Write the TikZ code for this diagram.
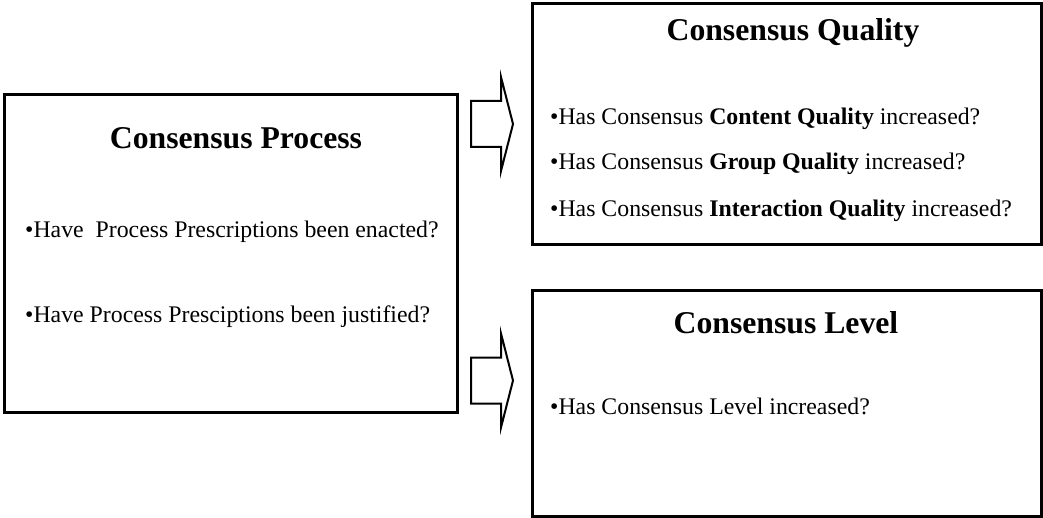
\documentclass[tikz,border=0pt]{standalone}
\usepackage{fontspec}
\setmainfont{Liberation Serif}
\begin{document}
\begin{tikzpicture}[x=1pt,y=-1pt,
  panel/.style={draw, line width=2.6pt, inner sep=0pt, anchor=north west},
  heading/.style={font=\fontsize{31.7}{38}\selectfont\bfseries, anchor=base, inner sep=0pt},
  item/.style={font=\fontsize{23.8}{28}\selectfont, anchor=base west, inner sep=0pt},
  blockarrow/.style={draw, line width=2pt, line join=miter, fill=white},
  pics/flowarrow/.style={code={
    \draw[blockarrow] (0,-23) -- (30,-23) -- (30,-47) -- (42,0) -- (30,47)
      -- (30,23) -- (0,23) -- cycle;}}]
\useasboundingbox (0,0) rectangle (1043,518);

% the three panels
\node[panel, minimum width=453pt, minimum height=318pt] (proc) at (3,93) {};
\node[panel, minimum width=509pt, minimum height=241pt] (qual) at (531,2) {};
\node[panel, minimum width=509pt, minimum height=226pt] (lev) at (531,289) {};

% Consensus Process
\node[heading] (procT) at (236,149) {Consensus Process};
\node[item] (procA) at (25,238) {•Have\ \ Process Prescriptions been enacted?};
\node[item] (procB) at (25,322) {•Have Process Presciptions been justified?};

% Consensus Quality
\node[heading] (qualT) at (793,41) {Consensus Quality};
\node[item] (qualA) at (550,125) {•Has Consensus \textbf{Content Quality} increased?};
\node[item] (qualB) at (550,170) {•Has Consensus \textbf{Group Quality} increased?};
\node[item] (qualC) at (550,217) {•Has Consensus \textbf{Interaction Quality} increased?};

% Consensus Level
\node[heading] (levT) at (786,333) {Consensus Level};
\node[item] (levA) at (550,414) {•Has Consensus Level increased?};

% block arrows between the panels
\pic (toQual) at (471,124) {flowarrow};
\pic (toLev) at (471,380.5) {flowarrow};
\end{tikzpicture}
\end{document}
